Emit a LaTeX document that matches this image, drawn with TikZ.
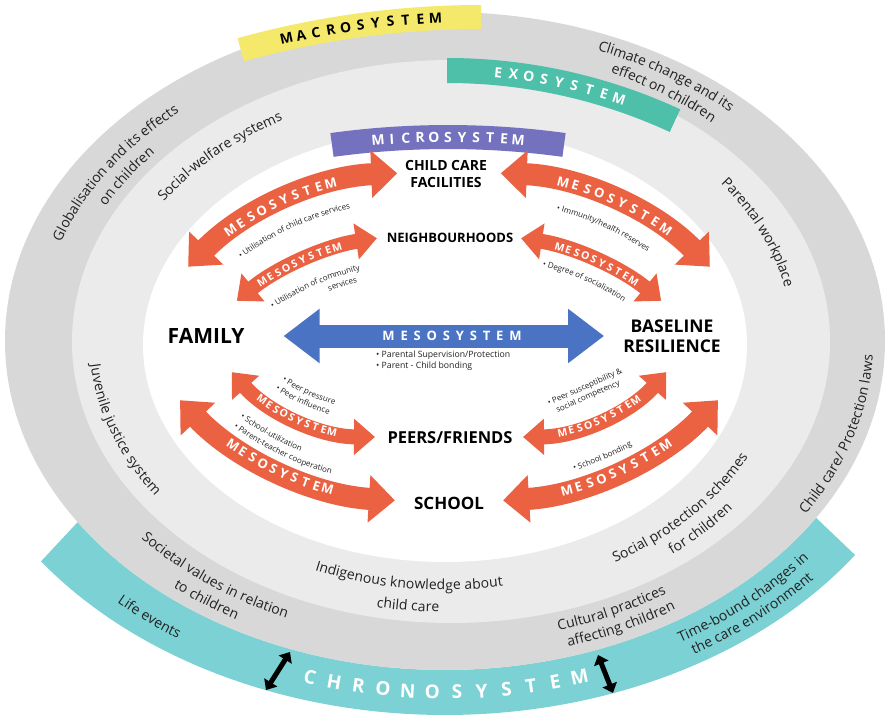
\documentclass[tikz,border=0pt]{standalone}
\usepackage{fontspec}
\setmainfont{Open Sans}
\usepackage{tikz}
\usetikzlibrary{arrows.meta,calc,decorations.text}

\definecolor{macrogray}{HTML}{D8D8D8}
\definecolor{exogray}{HTML}{EBEBEB}
\definecolor{chrono}{HTML}{7BD1D4}
\definecolor{exoband}{HTML}{4EC0AA}
\definecolor{macroband}{HTML}{F4E96B}
\definecolor{microband}{HTML}{7471BF}
\definecolor{meso}{HTML}{EB6243}
\definecolor{mesoblue}{HTML}{4A74C3}
\definecolor{ringtext}{HTML}{222222}

\newcommand{\ringfont}{\fontsize{14}{16}\selectfont}
\newcommand{\notefont}{\fontsize{8}{10}\selectfont}

% spaced capitals along a circle: centre, radius, first angle, step, style, name, letters
\newcommand{\arcword}[7]{%
  \foreach \wch [count=\k from 0] in {#7}{%
    \pgfmathsetmacro{\chang}{#3+\k*(#4)}%
    \pgfmathsetmacro{\chrot}{\chang+90*sign(#4)}%
    \node[#5, rotate=\chrot] (#6-\k) at ($(#1)+(\chang:#2)$) {\wch};
  }%
}

\tikzset{
  mesotip/.tip={Triangle[length=26pt,width=46pt]},
  smalltip/.tip={Triangle[length=21pt,width=35pt]},
  bluetip/.tip={Triangle[length=36pt,width=52pt]},
  chronotip/.tip={Triangle[length=9pt,width=15pt]},
  mesoarrow/.style={draw=meso, line width=22pt, mesotip-mesotip},
  smallmeso/.style={draw=meso, line width=15pt, smalltip-smalltip},
  bluearrow/.style={draw=mesoblue, line width=23pt, bluetip-bluetip},
  chronoarrow/.style={draw=black, line width=5pt, chronotip-chronotip},
  bandletter/.style={text=white, font=\bfseries\fontsize{14}{14}\selectfont, inner sep=0pt},
  macroletter/.style={bandletter, text=black},
  chronoletter/.style={bandletter, font=\bfseries\fontsize{19}{19}\selectfont},
  mesoletter/.style={bandletter, font=\bfseries\fontsize{13}{13}\selectfont},
  smallletter/.style={bandletter, font=\bfseries\fontsize{10.5}{10.5}\selectfont},
  system/.style={font=\bfseries, text=black, inner sep=0pt, align=center},
  note/.style={inner sep=0pt, text=ringtext, font=\notefont},
  ringlabel/.style={decorate, decoration={text along path, text align=center,
    raise=-3.7pt, text color=ringtext, text={|\ringfont|#1}}},
  notelabel/.style={decorate, decoration={text along path, text align=center,
    raise=-2.2pt, text color=ringtext, text={|\notefont|#1}}},
  noteleft/.style={notelabel={#1}, decoration={text align=left}}
}

\begin{document}
\begin{tikzpicture}[x=1pt, y=1pt]
  \useasboundingbox (0,0) rectangle (887,-717);

  % chronosystem band below the outer ring
  \begin{scope}[shift={(445,-341)}]
    \fill[chrono] (213.4:440 and 329) arc[start angle=213.4, end angle=327.5, x radius=440, y radius=329]
      -- (325.1:500 and 374) arc[start angle=325.1, end angle=216.1, x radius=500, y radius=374] -- cycle;
  \end{scope}

  % macro, exo and micro rings
  \fill[macrogray] (445,-341) ellipse[x radius=440, y radius=329];
  \fill[exogray] (451,-341.5) ellipse[x radius=379, y radius=281.5];
  \fill[white] (445,-345) ellipse[x radius=302, y radius=217];

  % macrosystem banner
  \begin{scope}[shift={(481,-916)}]
    \fill[macroband] (105.5:911) arc[start angle=105.5, end angle=90, radius=911]
      -- (90:887) arc[start angle=90, end angle=105.5, radius=887] -- cycle;
    \arcword{0,0}{899}{102.5}{-0.96}{macroletter}{macro}{M,A,C,R,O,S,Y,S,T,E,M}
  \end{scope}

  % exosystem banner
  \begin{scope}[shift={(447,-614)}]
    \fill[exoband] (90:556) arc[start angle=90, end angle=65.2, radius=556]
      -- (65.2:531) arc[start angle=65.2, end angle=90, radius=531] -- cycle;
    \arcword{0,0}{543.5}{84.6}{-1.63}{bandletter}{exo}{E,X,O,S,Y,S,T,E,M}
  \end{scope}

  % microsystem banner
  \begin{scope}[shift={(448,-992)}]
    \fill[microband] (97.8:867) arc[start angle=97.8, end angle=82.2, radius=867]
      -- (82.2:843) arc[start angle=82.2, end angle=97.8, radius=843] -- cycle;
    \arcword{0,0}{855}{94.7}{-0.94}{bandletter}{micro}{M,I,C,R,O,S,Y,S,T,E,M}
  \end{scope}

  % chronosystem lettering and arrows
  \begin{scope}[shift={(445,-63)}]
    \arcword{0,0}{629}{257.6}{2.25}{chronoletter}{chrono}{C,H,R,O,N,O,S,Y,S,T,E,M}
  \end{scope}
  \coordinate (chl1) at (266,-690);
  \coordinate (chl2) at (290,-652);
  \coordinate (chr1) at (598,-655);
  \coordinate (chr2) at (613,-693);
  \draw[chronoarrow] (chl1) -- (chl2);
  \draw[chronoarrow] (chr1) -- (chr2);

  % labels in the rings
  \begin{scope}[shift={(445,-341)}]
    \path[ringlabel={Globalisation and its effects}] (180:410 and 306.6) arc[start angle=180, end angle=115.2, x radius=410, y radius=306.6];
    \path[ringlabel={on children}] (175:388 and 290) arc[start angle=175, end angle=119.2, x radius=388, y radius=290];
    \path[ringlabel={Climate change and its}] (85:422.4 and 315.8) arc[start angle=85, end angle=28.3, x radius=422.4, y radius=315.8];
    \path[ringlabel={effect on children}] (85:400 and 299) arc[start angle=85, end angle=24.9, x radius=400, y radius=299];
    \path[ringlabel={Child care/ Protection laws}] (-45:424.6 and 317.5) arc[start angle=-45, end angle=11.6, x radius=424.6, y radius=317.5];
    \path[ringlabel={Societal values in relation}] (205:398.2 and 297.7) arc[start angle=205, end angle=260.1, x radius=398.2, y radius=297.7];
    \path[ringlabel={to children}] (206:422.4 and 315.8) arc[start angle=206, end angle=261.9, x radius=422.4, y radius=315.8];
    \path[ringlabel={Cultural practices}] (268.4:399 and 298.3) arc[start angle=268.4, end angle=323.6, x radius=399, y radius=298.3];
    \path[ringlabel={affecting children}] (268.5:422 and 315.5) arc[start angle=268.5, end angle=323.4, x radius=422, y radius=315.5];

    \path[ringlabel={Social-welfare systems}] (160:341.4 and 255.3) arc[start angle=160, end angle=107.1, x radius=341.4, y radius=255.3];
    \path[ringlabel={Parental workplace}] (50.8:351 and 262.5) arc[start angle=50.8, end angle=-3.6, x radius=351, y radius=262.5];
    \path[ringlabel={Juvenile justice system}] (170:352 and 263.2) arc[start angle=170, end angle=228.4, x radius=352, y radius=263.2];
    \path[ringlabel={Social protection schemes}] (-72.2:336.6 and 251.7) arc[start angle=-72.2, end angle=-11.8, x radius=336.6, y radius=251.7];
    \path[ringlabel={for children}] (-72.3:360.8 and 269.8) arc[start angle=-72.3, end angle=-13, x radius=360.8, y radius=269.8];
    \path[ringlabel={Indigenous knowledge about}] (233.2:328 and 245.3) arc[start angle=233.2, end angle=293.2, x radius=328, y radius=245.3];
    \path[ringlabel={child care}] (238.8:357.5 and 267.3) arc[start angle=238.8, end angle=288.8, x radius=357.5, y radius=267.3];

    \path[ringlabel={Life events}] (210.5:474.8 and 355) arc[start angle=210.5, end angle=250.5, x radius=474.8, y radius=355];
    \path[ringlabel={Time-bound changes in}] (284.8:462 and 345.5) arc[start angle=284.8, end angle=340, x radius=462, y radius=345.5];
    \path[ringlabel={the care environment}] (283.3:483 and 361.2) arc[start angle=283.3, end angle=340, x radius=483, y radius=361.2];
  \end{scope}

  % family <-> child care facilities
  \begin{scope}[shift={(409,-480)}]
    \coordinate (famcc) at (136:307);
    \draw[mesoarrow] (famcc) arc[start angle=136, end angle=92.2, radius=307];
    \arcword{0,0}{307}{125.6}{-2.31}{mesoletter}{mesoA}{M,E,S,O,S,Y,S,T,E,M}
    \path[notelabel={• Utilisation of child care services}] (145:280) arc[start angle=145, end angle=84.4, radius=280];
  \end{scope}

  % family <-> neighbourhoods
  \begin{scope}[shift={(420,-523)}]
    \coordinate (famnb) at (129.5:288);
    \draw[smallmeso] (famnb) arc[start angle=129.5, end angle=98.6, radius=288];
    \arcword{0,0}{288}{123.2}{-1.83}{smallletter}{mesoB}{M,E,S,O,S,Y,S,T,E,M}
    \path[notelabel={• Utilisation of community}] (143.9:262) arc[start angle=143.9, end angle=83.9, radius=262];
    \path[notelabel={services}] (128:251) arc[start angle=128, end angle=88, radius=251];
  \end{scope}

  % child care facilities <-> baseline resilience
  \begin{scope}[shift={(489,-480)}]
    \coordinate (ccbase) at (87.8:307);
    \draw[mesoarrow] (ccbase) arc[start angle=87.8, end angle=44, radius=307];
    \arcword{0,0}{307}{76}{-2.35}{mesoletter}{mesoC}{M,E,S,O,S,Y,S,T,E,M}
    \path[notelabel={• Immunity/health reserves}] (95.6:280) arc[start angle=95.6, end angle=35.6, radius=280];
  \end{scope}

  % neighbourhoods <-> baseline resilience
  \begin{scope}[shift={(478,-523)}]
    \coordinate (nbbase) at (81.4:288);
    \draw[smallmeso] (nbbase) arc[start angle=81.4, end angle=50.5, radius=288];
    \arcword{0,0}{288}{73.5}{-1.8}{smallletter}{mesoD}{M,E,S,O,S,Y,S,T,E,M}
    \path[notelabel={• Degree of socialization}] (96.3:267) arc[start angle=96.3, end angle=36.3, radius=267];
  \end{scope}

  % family <-> peers/friends
  \begin{scope}[shift={(376,-244)}]
    \coordinate (fampeer) at (221.6:193);
    \draw[smallmeso] (fampeer) arc[start angle=221.6, end angle=269.7, radius=193];
    \arcword{0,0}{193}{233.8}{2.56}{smallletter}{mesoE}{M,E,S,O,S,Y,S,T,E,M}
    \path[noteleft={• Peer pressure}] (235.5:163.5) arc[start angle=235.5, end angle=290, radius=163.5];
    \path[noteleft={• Peer influence}] (235.3:174.5) arc[start angle=235.3, end angle=290, radius=174.5];
  \end{scope}

  % family <-> school
  \begin{scope}[shift={(414,-179)}]
    \coordinate (famsch) at (223.4:322);
    \draw[mesoarrow] (famsch) arc[start angle=223.4, end angle=266.6, radius=322];
    \arcword{0,0}{322}{235.8}{2.07}{mesoletter}{mesoF}{M,E,S,O,S,Y,S,T,E,M}
    \path[noteleft={• School-utilization}] (233.9:293) arc[start angle=233.9, end angle=275, radius=293];
    \path[noteleft={• Parent-teacher cooperation}] (234:304.5) arc[start angle=234, end angle=280, radius=304.5];
  \end{scope}

  % peers/friends <-> baseline resilience
  \begin{scope}[shift={(522,-244)}]
    \coordinate (peerbase) at (270.3:193);
    \draw[smallmeso] (peerbase) arc[start angle=270.3, end angle=318.4, radius=193];
    \arcword{0,0}{193}{282.1}{2.66}{smallletter}{mesoG}{M,E,S,O,S,Y,S,T,E,M}
  \end{scope}
  \node[note, rotate=24, align=left] (peernote) at (587,-392) {• Peer susceptibility \&\\\hphantom{• }social competency};

  % school <-> baseline resilience
  \begin{scope}[shift={(484,-179)}]
    \coordinate (schbase) at (273.4:322);
    \draw[mesoarrow] (schbase) arc[start angle=273.4, end angle=316.6, radius=322];
    \arcword{0,0}{322}{284.9}{2.16}{mesoletter}{mesoH}{M,E,S,O,S,Y,S,T,E,M}
    \path[notelabel={• School bonding}] (268.1:303) arc[start angle=268.1, end angle=318.1, radius=303];
  \end{scope}

  % microsystem settings
  \node[system, font=\bfseries\fontsize{21}{24}\selectfont] (family) at (206,-336) {FAMILY};
  \node[system, font=\bfseries\fontsize{17.5}{20}\selectfont] (baseline) at (672,-336) {BASELINE\\RESILIENCE};
  \node[system, font=\bfseries\fontsize{14}{17}\selectfont] (childcare) at (446,-174) {CHILD CARE\\FACILITIES};
  \node[system, font=\bfseries\fontsize{13}{15}\selectfont] (neighbour) at (450,-238) {NEIGHBOURHOODS};
  \node[system, font=\bfseries\fontsize{16.5}{19}\selectfont] (peers) at (450,-438) {PEERS/FRIENDS};
  \node[system, font=\bfseries\fontsize{17}{19}\selectfont] (school) at (449,-503) {SCHOOL};

  % family <-> baseline resilience
  \draw[bluearrow, shorten <=39pt, shorten >=19pt] (family) -- (baseline);
  \node[text=white, inner sep=0pt, font=\bfseries\fontsize{13}{13}\selectfont\addfontfeature{LetterSpace=45}] (bluemeso) at (452,-336) {MESOSYSTEM};
  \node[note, anchor=north west, align=left, font=\fontsize{8.7}{11}\selectfont] (parentnote) at (376,-351) {• Parental Supervision/Protection\\• Parent - Child bonding};
\end{tikzpicture}
\end{document}
